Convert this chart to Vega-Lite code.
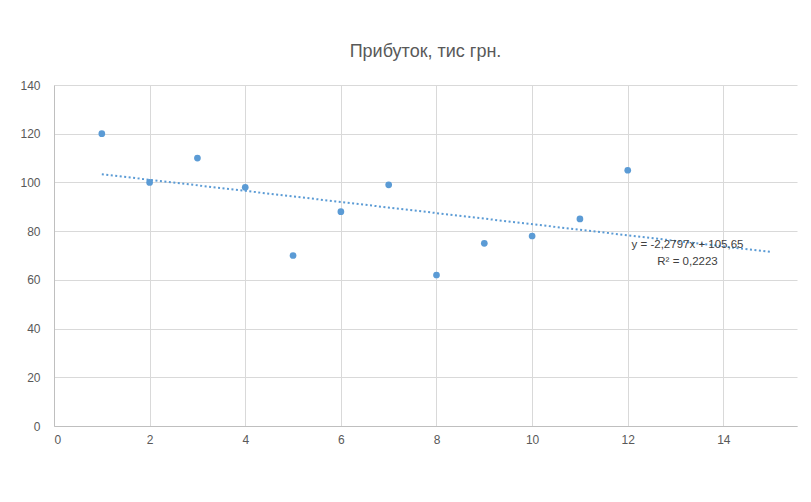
{
  "$schema": "https://vega.github.io/schema/vega-lite/v6.json",
  "autosize": "none",
  "width": 743,
  "height": 341,
  "padding": {"left": 54, "top": 85, "right": 14, "bottom": 76},
  "background": "white",
  "title": {
    "text": "Прибуток, тис грн.",
    "font": "Liberation Sans Narrow, Liberation Sans, sans-serif",
    "fontSize": 18,
    "fontWeight": "normal",
    "color": "#595959",
    "anchor": "middle",
    "offset": 18
  },
  "config": {
    "view": {"stroke": null},
    "axis": {
      "labelFont": "Liberation Sans Narrow, Liberation Sans, sans-serif",
      "labelFontSize": 12,
      "labelColor": "#595959",
      "gridColor": "#d9d9d9",
      "gridWidth": 1,
      "domainColor": "#bfbfbf",
      "ticks": false,
      "title": null
    }
  },
  "datasets": {
    "profit": [
      {"x": 1, "y": 120}, {"x": 2, "y": 100}, {"x": 3, "y": 110}, {"x": 4, "y": 98},
      {"x": 5, "y": 70}, {"x": 6, "y": 88}, {"x": 7, "y": 99}, {"x": 8, "y": 62},
      {"x": 9, "y": 75}, {"x": 10, "y": 78}, {"x": 11, "y": 85}, {"x": 12, "y": 105}
    ],
    "trend": [
      {"x": 1, "y": 103.3703},
      {"x": 15, "y": 71.4545}
    ],
    "equation": [
      {"x": 13.25, "y": 74.5, "label": "y = -2,2797x + 105,65"},
      {"x": 13.25, "y": 67.5, "label": "R² = 0,2223"}
    ]
  },
  "layer": [
    {
      "data": {"name": "trend"},
      "mark": {"type": "line", "color": "#5b9bd5", "strokeWidth": 2, "strokeDash": [2, 2.5]},
      "encoding": {
        "x": {"field": "x", "type": "quantitative",
              "scale": {"domain": [0, 15.54], "nice": false, "zero": true},
              "axis": {"values": [0, 2, 4, 6, 8, 10, 12, 14], "labelPadding": 8, "grid": true}},
        "y": {"field": "y", "type": "quantitative",
              "scale": {"domain": [0, 140], "nice": false},
              "axis": {"values": [0, 20, 40, 60, 80, 100, 120, 140], "labelPadding": 14, "grid": true}}
      }
    },
    {
      "data": {"name": "profit"},
      "mark": {"type": "point", "filled": true, "opacity": 1, "color": "#5b9bd5", "size": 45},
      "encoding": {
        "x": {"field": "x", "type": "quantitative"},
        "y": {"field": "y", "type": "quantitative"}
      }
    },
    {
      "data": {"name": "equation"},
      "mark": {"type": "text", "align": "center", "baseline": "middle",
               "font": "Liberation Sans Narrow, Liberation Sans, sans-serif",
               "fontSize": 11.5, "color": "#404040"},
      "encoding": {
        "x": {"field": "x", "type": "quantitative"},
        "y": {"field": "y", "type": "quantitative"},
        "text": {"field": "label"}
      }
    }
  ]
}
